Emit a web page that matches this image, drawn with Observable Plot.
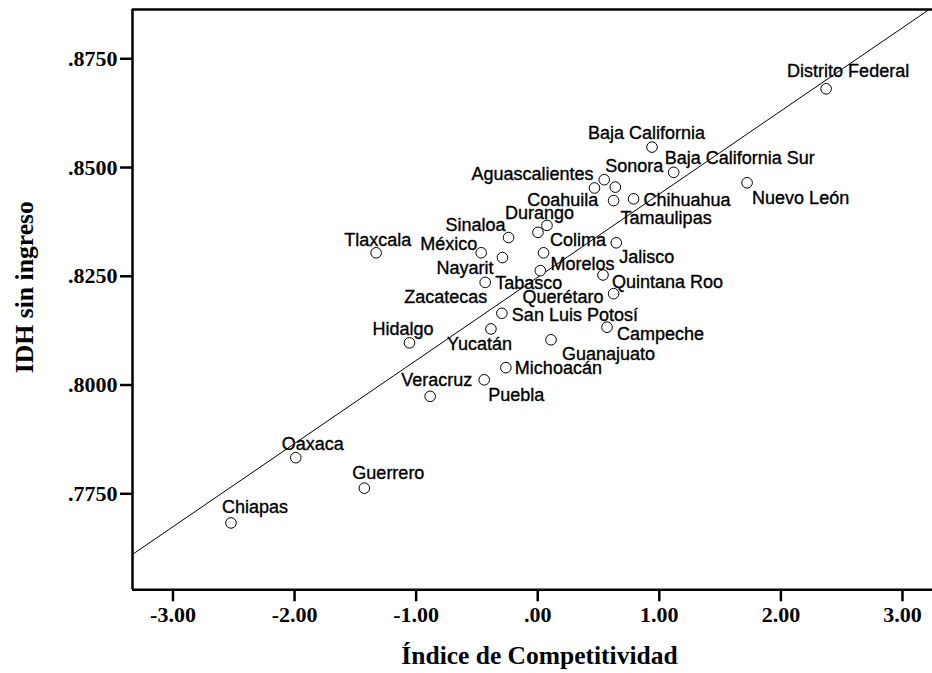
<!DOCTYPE html>
<html><head><meta charset="utf-8">
<script src="https://cdn.jsdelivr.net/npm/d3@7"></script>
<script src="https://cdn.jsdelivr.net/npm/@observablehq/plot@0.6"></script>
<style>body{margin:0;background:#fff} svg{display:block}</style>
</head><body><div id="chart"></div>
<script>
const states = ["Distrito Federal","Baja California","Baja California Sur","Nuevo León","Sonora","Aguascalientes","Coahuila","Tamaulipas","Chihuahua","Durango","Colima","Sinaloa","Tlaxcala","México","Nayarit","Morelos","Tabasco","Zacatecas","Jalisco","Quintana Roo","Querétaro","San Luis Potosí","Campeche","Yucatán","Hidalgo","Guanajuato","Michoacán","Puebla","Veracruz","Guerrero","Oaxaca","Chiapas"];
const competitividad = [2.372,0.940,1.118,1.722,0.547,0.467,0.638,0.624,0.788,0.076,0.002,-0.240,-1.329,-0.465,-0.290,0.048,0.021,-0.432,0.646,0.537,0.624,-0.295,0.570,-0.385,-1.055,0.109,-0.262,-0.440,-0.885,-1.426,-1.990,-2.523];
const idhSinIngreso = [0.8681,0.8547,0.8489,0.8465,0.8472,0.8453,0.8455,0.8424,0.8428,0.8367,0.8351,0.8339,0.8304,0.8304,0.8293,0.8304,0.8263,0.8236,0.8327,0.8253,0.8210,0.8165,0.8133,0.8129,0.8097,0.8104,0.8040,0.8012,0.7974,0.7763,0.7833,0.7683];
const xTicks = [-3,-2,-1,0,1,2,3];
const yTicks = [0.775,0.800,0.825,0.850,0.875];

// label placement (style only): [textAnchor, dx, dy] in pixels
const labelPlacement = {
  "Distrito Federal":["start",-39,-18],
  "Baja California":["start",-64,-14],
  "Baja California Sur":["start",-9,-14],
  "Nuevo León":["start",5,15],
  "Sonora":["start",1,-13],
  "Aguascalientes":["end",-1,-14],
  "Coahuila":["end",-17,13],
  "Tamaulipas":["start",7,18],
  "Chihuahua":["start",10,1],
  "Durango":["start",-42,-12],
  "Colima":["start",12,8],
  "Sinaloa":["end",-3,-12],
  "Tlaxcala":["start",-32,-13],
  "México":["end",-4,-9],
  "Nayarit":["end",-9,11],
  "Morelos":["start",7,11],
  "Tabasco":["start",-45,13],
  "Zacatecas":["end",2,15],
  "Jalisco":["start",3,14],
  "Quintana Roo":["start",9,7],
  "Querétaro":["end",-10,4],
  "San Luis Potosí":["start",10,2],
  "Campeche":["start",10,7],
  "Yucatán":["start",-44,15],
  "Hidalgo":["start",-37,-14],
  "Guanajuato":["start",11,14],
  "Michoacán":["start",9,1],
  "Puebla":["start",4,15],
  "Veracruz":["start",-29,-16],
  "Guerrero":["start",-12,-15],
  "Oaxaca":["start",-14,-13],
  "Chiapas":["start",-9,-16]
};

const data = states.map((s,i)=>({name:s, x:competitividad[i], y:idhSinIngreso[i]}));
const xDomain = [-3.333, 3.247];
const yDomain = [0.75293, 0.88633];

// least-squares fit
const mx = d3.mean(data, d=>d.x), my = d3.mean(data, d=>d.y);
const slope = d3.sum(data, d=>(d.x-mx)*(d.y-my)) / d3.sum(data, d=>(d.x-mx)**2);
const intercept = my - slope*mx;
const fitLine = xDomain.map(x=>({x, y: intercept + slope*x}));

const fmt = p => { const f = d3.formatLocale({decimal:".", thousands:",", grouping:[3], currency:["",""], minus:"-"}).format(p); return d => f(d).replace(/^(-?)0\./, "$1."); };
const serif = "'Liberation Serif', 'Times New Roman', serif";

const labelMarks = data.map(d=>{
  const [a,dx,dy] = labelPlacement[d.name];
  return Plot.text([d], {x:"x", y:"y", text:"name", textAnchor:a, dx, dy, fontSize:18, fill:"black", stroke:"black", strokeWidth:0.35});
});

const chart = Plot.plot({
  width: 932, height: 673,
  marginLeft: 132, marginRight: 0, marginTop: 9, marginBottom: 83.7,
  x: {domain: xDomain, axis: null},
  y: {domain: yDomain, axis: null},
  style: {fontFamily: "'Liberation Sans', Arial, sans-serif", background: "white", color: "black"},
  marks: [
    Plot.line(fitLine, {x:"x", y:"y", stroke:"black", strokeWidth:1, clip:true}),
    Plot.ruleY([yDomain[1]], {strokeWidth:2.5}),
    Plot.ruleY([yDomain[0]], {strokeWidth:2.5}),
    Plot.ruleX([xDomain[0]], {strokeWidth:2.5}),
    Plot.axisX(xTicks, {tickSize:12, tickPadding:5, strokeWidth:2.5, tickFormat: fmt(".2f"), fontSize:22, fontFamily:serif, fontWeight:"bold", label:null}),
    Plot.axisY(yTicks, {tickSize:12, tickPadding:3, strokeWidth:2.5, tickFormat: fmt(".4f"), fontSize:22, fontFamily:serif, fontWeight:"bold", label:null}),
    Plot.dot(data, {x:"x", y:"y", r:5.3, stroke:"black", fill:"white", strokeWidth:1}),
    ...labelMarks,
    Plot.text(["Índice de Competitividad"], {frameAnchor:"bottom", textAnchor:"middle", lineAnchor:"middle", dx:7, dy:66, fontSize:25.5, fontFamily:serif, fontWeight:"bold", fill:"black"}),
    Plot.text(["IDH sin ingreso"], {frameAnchor:"left", textAnchor:"middle", lineAnchor:"middle", rotate:-90, dx:-108, dy:-12.5, fontSize:25.7, fontFamily:serif, fontWeight:"bold", fill:"black"})
  ]
});
document.getElementById("chart").appendChild(chart);
</script>
</body></html>
